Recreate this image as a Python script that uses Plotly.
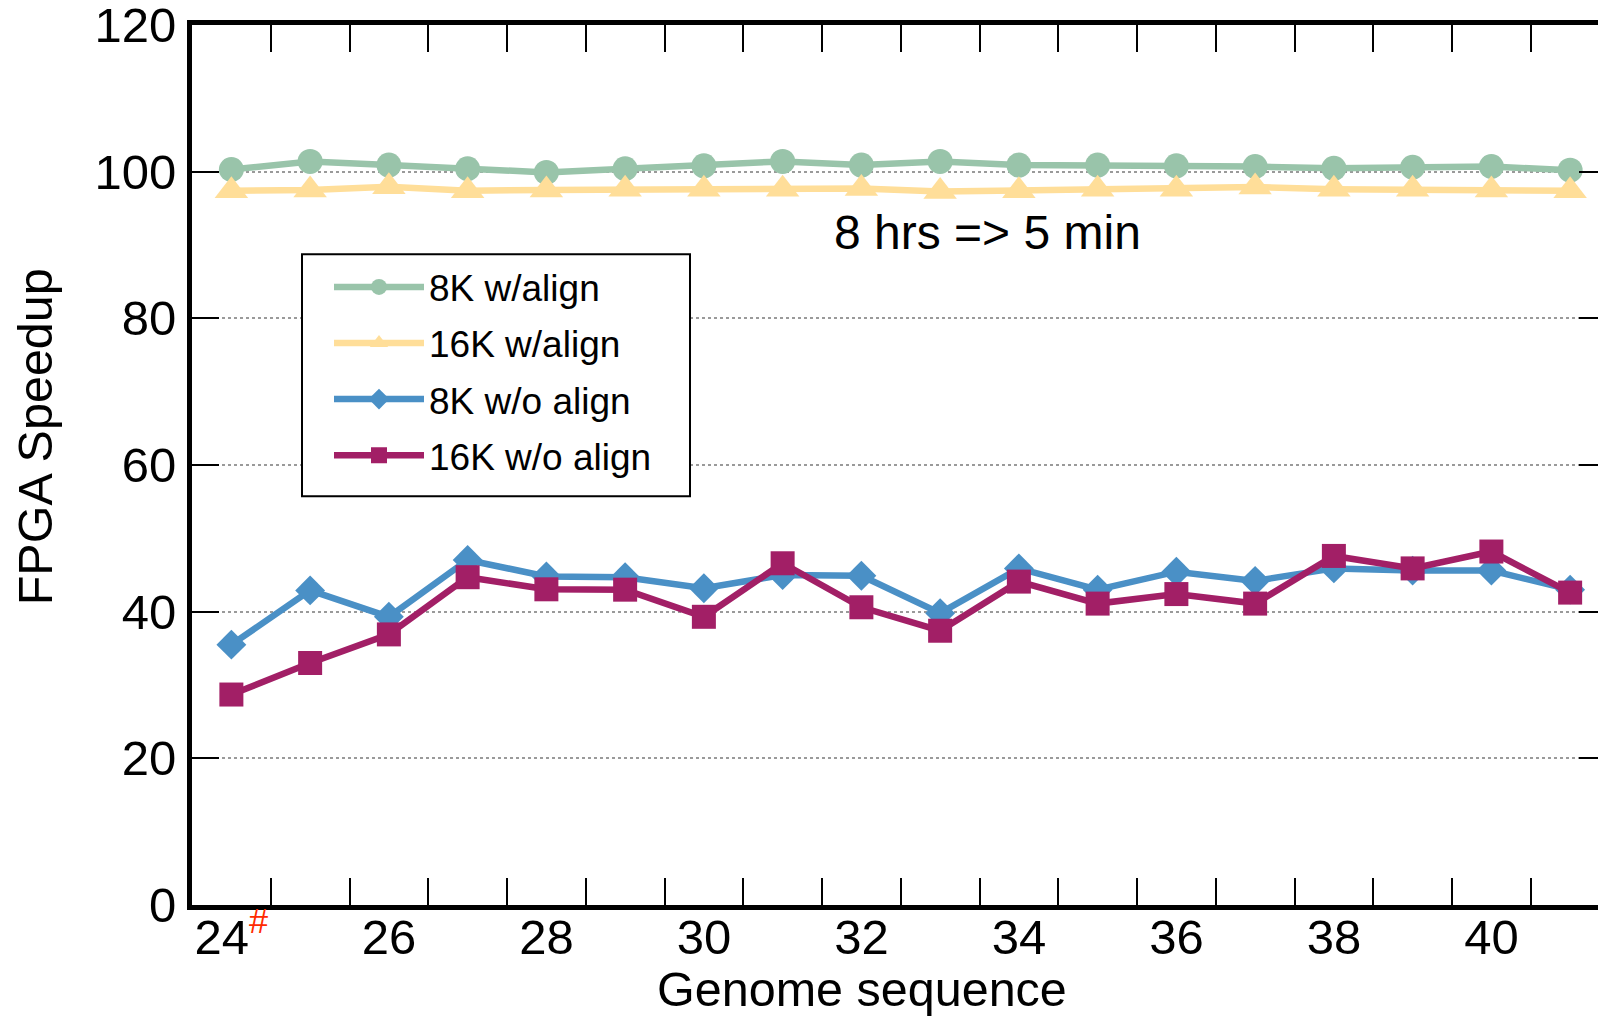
import plotly.graph_objects as go

genomes = list(range(24, 42))
k8_align = [100.3, 101.4, 100.9, 100.4, 99.9, 100.4, 100.8, 101.4, 100.9,
            101.4, 100.9, 100.9, 100.8, 100.7, 100.45, 100.6, 100.7, 100.2]
k16_align = [97.4, 97.5, 97.95, 97.4, 97.5, 97.6, 97.6, 97.6, 97.7,
             97.3, 97.4, 97.6, 97.6, 97.9, 97.6, 97.6, 97.5, 97.4]
k8_noalign = [35.5, 42.9, 39.3, 47.05, 44.8, 44.7, 43.2, 45.0, 44.9,
              39.8, 45.9, 43.0, 45.45, 44.2, 45.9, 45.6, 45.6, 43.0]
k16_noalign = [28.7, 33.0, 36.9, 44.7, 43.05, 43.0, 39.3, 46.6, 40.6,
               37.4, 44.1, 41.1, 42.4, 41.1, 47.6, 45.9, 48.2, 42.6]

label_vals = [24, 26, 28, 30, 32, 34, 36, 38, 40]
label_text = ["24<sup><span style='color:#ff2a00'>#</span></sup>", "26", "28", "30",
              "32", "34", "36", "38", "40"]
boundary_ticks = [g + 0.5 for g in genomes[:-1]]
y_ticks = [0, 20, 40, 60, 80, 100, 120]

series = [
    ("8K w/align", k8_align, "#99C4AA", "circle", 25),
    ("16K w/align", k16_align, "#FFDE99", "triangle-up", 29),
    ("8K w/o align", k8_noalign, "#4A90C6", "diamond", 23),
    ("16K w/o align", k16_noalign, "#A21F66", "square", 24),
]

FONT = "Liberation Sans, Arial, Helvetica, sans-serif"

fig = go.Figure()
for name, vals, color, sym, size in series:
    fig.add_trace(go.Scatter(
        x=genomes, y=vals, name=name, legendgroup=name, mode="lines+markers",
        line=dict(color=color, width=6.5),
        marker=dict(symbol=sym, size=size, color=color, line=dict(width=0)),
        cliponaxis=False,
    ))

# page body has an 8px margin: figure is drawn 8px right/down of window origin
OFF = 8
W, H = 1606 - OFF, 1020 - OFF
L, R, T, B = 192 - OFF, 0, 24.5 - OFF, 1020 - 905
PW, PH = W - L - R, H - T - B
xr = [23.5, 23.5 + PW / 78.75]


def px(xs):  # screen x -> paper
    return (xs - OFF - L) / PW


def py(ys):  # screen y -> paper
    return (H - B - (ys - OFF)) / PH


fig.update_layout(
    width=W, height=H,
    margin=dict(l=L, r=R, t=T, b=B, autoexpand=False),
    paper_bgcolor="white", plot_bgcolor="white",
    font=dict(family=FONT, color="black", size=46),
    showlegend=True,
    legend=dict(
        x=px(329), y=py(256), xanchor="left", yanchor="top",
        bgcolor="rgba(0,0,0,0)", borderwidth=0,
        font=dict(size=37, family=FONT),
        itemwidth=90, tracegroupgap=5,
    ),
    xaxis=dict(
        range=xr, tickvals=label_vals, ticktext=label_text, ticks="",
        tickfont=dict(size=49, family=FONT), ticklabelstandoff=-15,
        ticklabeloverflow="allow", automargin=False,
        minor=dict(tickvals=boundary_ticks, ticks="inside", ticklen=27,
                   tickwidth=2, tickcolor="black", showgrid=False),
        showline=True, linewidth=5, linecolor="black", mirror="ticks",
        showgrid=False, zeroline=False,
    ),
    yaxis=dict(
        range=[0, 120], tickvals=y_ticks,
        ticks="inside", ticklen=27, tickwidth=2, tickcolor="black",
        showline=True, linewidth=5, linecolor="black", mirror="ticks",
        showgrid=True, gridcolor="#9a9a9a", gridwidth=1.5, griddash="dot",
        zeroline=False, tickfont=dict(size=49, family=FONT),
        ticklabelstandoff=1, ticklabeloverflow="allow", automargin=False,
    ),
    shapes=[
        dict(type="rect", xref="paper", yref="paper",
             x0=px(302), x1=px(690), y0=py(496), y1=py(254),
             line=dict(color="black", width=2), fillcolor="white", layer="above"),
    ],
    annotations=[
        dict(text="8 hrs => 5 min", x=33.6, y=91.7, xref="x", yref="y",
             showarrow=False, font=dict(size=48, family=FONT)),
        dict(text="Genome sequence", x=px(862), y=py(989),
             xref="paper", yref="paper", xanchor="center", yanchor="middle",
             showarrow=False, font=dict(size=48.5, family=FONT)),
        dict(text="FPGA Speedup", x=px(35), y=py(437),
             xref="paper", yref="paper", xanchor="center", yanchor="middle",
             textangle=-90, showarrow=False, font=dict(size=48.5, family=FONT)),
    ],
)

fig.write_html("out.html")
